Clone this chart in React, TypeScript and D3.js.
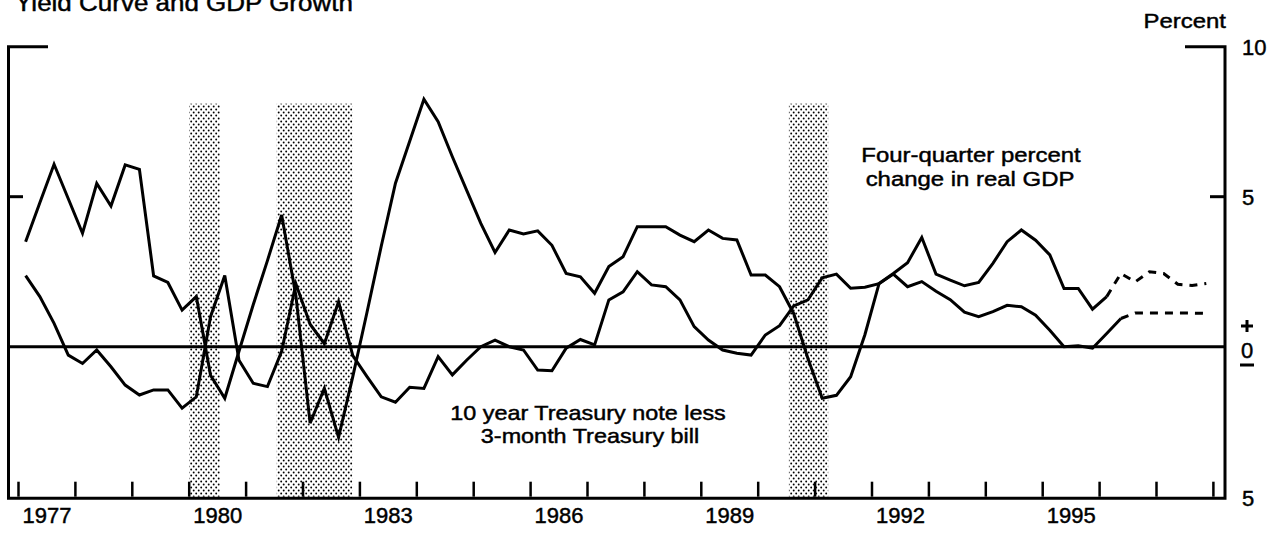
import React from 'react';
import * as d3 from 'd3';

// Quarterly observations, 1977Q1 .. 1997Q4 (84 quarters)
const firstQuarterYear = 1977;

// Four-quarter percent change in real GDP
const gdpGrowth: number[] = [
  3.50, 4.80, 6.08, 4.93, 3.78, 5.44, 4.69, 6.06, 5.91, 2.36,
  2.14, 1.22, 1.67, -0.95, -1.72, -0.15, 1.40, 2.87, 4.39, 1.70,
  -2.55, -1.39, -3.02, -1.00, 1.15, 3.35, 5.45, 6.85, 8.25, 7.50,
  6.33, 5.22, 4.11, 3.14, 3.89, 3.76, 3.86, 3.38, 2.44, 2.33,
  1.78, 2.67, 3.00, 4.00, 4.00, 4.00, 3.72, 3.50, 3.89, 3.61,
  3.56, 2.39, 2.39, 2.00, 1.10, -0.40, -1.72, -1.62, -1.00, 0.40,
  2.11, 2.44, 2.80, 3.64, 2.42, 2.22, 2.03, 2.14, 2.78, 3.50,
  3.89, 3.55, 3.06, 1.94, 1.94, 1.25, 1.67, 2.44, 2.16, 2.50,
  2.44, 2.08, 2.04, 2.11,
];

// 10 year Treasury note less 3-month Treasury bill
const yieldSpread: number[] = [
  2.37, 1.67, 0.78, -0.28, -0.56, -0.11, -0.67, -1.28, -1.61, -1.44,
  -1.44, -2.05, -1.67, 1.00, 2.37, -0.45, -1.22, -1.33, -0.15, 2.10,
  0.75, 0.10, 1.50, -0.30, -1.00, -1.67, -1.85, -1.35, -1.39, -0.33,
  -0.94, -0.45, 0.00, 0.22, 0.00, -0.11, -0.78, -0.80, -0.05, 0.24,
  0.06, 1.56, 1.83, 2.50, 2.06, 2.00, 1.56, 0.67, 0.22, -0.11,
  -0.22, -0.28, 0.39, 0.70, 1.36, 1.56, 2.30, 2.42, 1.95, 1.98,
  2.10, 2.42, 2.00, 2.17, 1.85, 1.57, 1.15, 1.00, 1.17, 1.38,
  1.33, 1.05, 0.55, 0.00, 0.03, -0.05, 0.44, 0.94, 1.12, 1.12,
  1.12, 1.12, 1.12, 1.11,
];

// index of the last actual (solid) observation; projections are dashed after it
const gdpLastActual = 76;
const spreadLastActual = 77;

const yearTicks: number[] = d3.range(1977, 1999);
const yearLabels: number[] = [1977, 1980, 1983, 1986, 1989, 1992, 1995];
const recessions: [number, number][] = [
  [1980.0, 1980.54],
  [1981.54, 1982.87],
  [1990.54, 1991.23],
];
const shadeTopValue = 8.1;

const FONT = '"Liberation Sans", Arial, Helvetica, sans-serif';
const TEXT_STROKE = 0.45;

function StretchText(props: {
  x: number; y: number; size: number; sx?: number;
  anchor?: 'start' | 'middle' | 'end'; children: React.ReactNode;
}) {
  const { x, y, size, sx = 1.12, anchor = 'start', children } = props;
  return (
    <text
      transform={`translate(${x},${y}) scale(${sx},1)`}
      textAnchor={anchor}
      fontFamily={FONT}
      fontSize={size}
      fill="#000"
      stroke="#000"
      strokeWidth={TEXT_STROKE}
    >
      {children}
    </text>
  );
}

function Num(props: { x: number; y: number; anchor?: 'start' | 'middle' | 'end'; children: React.ReactNode }) {
  const { x, y, anchor = 'start', children } = props;
  return (
    <text
      x={x}
      y={y}
      textAnchor={anchor}
      fontFamily={FONT}
      fontSize={22}
      fill="#000"
      stroke="#000"
      strokeWidth={TEXT_STROKE}
    >
      {children}
    </text>
  );
}

export default function App() {
  const W = 1286;
  const H = 533;
  const frameLeft = 8.5;
  const frameRight = 1225;

  const x = d3.scaleLinear().domain([1977, 1998]).range([18.5, 1213.4]);
  const y = d3.scaleLinear().domain([-5, 10]).range([496.7, 46.7]);

  const quarterTime = (i: number) => firstQuarterYear + 0.125 + i * 0.25;

  const line = d3
    .line<[number, number]>()
    .x((d) => x(d[0]))
    .y((d) => y(d[1]));

  const toPts = (arr: number[]) =>
    arr.map((v, i) => [quarterTime(i), v] as [number, number]);

  const gdpPts = toPts(gdpGrowth);
  const sprPts = toPts(yieldSpread);

  const top = y(10);
  const bottom = y(-5);
  const zeroY = y(0);

  return (
    <svg
      width={W}
      height={H}
      viewBox={`0 0 ${W} ${H}`}
      style={{ position: 'absolute', left: 0, top: 0, background: '#fff' }}
    >
      <defs>
        <pattern id="dots" width={5} height={6} patternUnits="userSpaceOnUse">
          <rect width={5} height={6} fill="#fff" />
          <circle cx={1.2} cy={1.5} r={0.95} fill="#000" />
          <circle cx={3.7} cy={4.5} r={0.95} fill="#000" />
        </pattern>
      </defs>
      <rect x={0} y={0} width={W} height={H} fill="#fff" />

      {/* Title (cut off at top, as in the source) */}
      <StretchText x={15} y={11} size={23} sx={1.13}>
        Yield Curve and GDP Growth
      </StretchText>

      {/* recession shading */}
      {recessions.map(([a, b], k) => (
        <rect
          key={k}
          x={x(a)}
          y={y(shadeTopValue)}
          width={x(b) - x(a)}
          height={bottom - y(shadeTopValue)}
          fill="url(#dots)"
        />
      ))}

      {/* zero line */}
      <line x1={frameLeft} x2={frameRight} y1={zeroY} y2={zeroY} stroke="#000" strokeWidth={3} />

      {/* frame */}
      <path
        d={`M${frameLeft - 1.5},${top} H48 M${frameLeft},${top - 1.5} V${bottom + 1.5} H${frameRight + 1.5} M${frameRight},${bottom} V${top - 1.5} M${frameRight + 1.5},${top} H1185`}
        fill="none"
        stroke="#000"
        strokeWidth={3}
      />

      {/* y ticks at 5 */}
      <line x1={frameLeft} x2={23} y1={y(5)} y2={y(5)} stroke="#000" strokeWidth={3} />
      <line x1={1210} x2={frameRight} y1={y(5)} y2={y(5)} stroke="#000" strokeWidth={3} />

      {/* x ticks */}
      {yearTicks.map((t) => (
        <line key={t} x1={x(t)} x2={x(t)} y1={bottom} y2={bottom - 15} stroke="#000" strokeWidth={2.5} />
      ))}

      {/* x labels */}
      {yearLabels.map((t) => (
        <Num key={t} x={x(t + 0.5)} y={523} anchor="middle">{t}</Num>
      ))}

      {/* right axis labels */}
      <StretchText x={1226} y={28} size={21} sx={1.14} anchor="end">Percent</StretchText>
      <Num x={1242} y={y(10) + 8}>10</Num>
      <Num x={1242} y={y(5) + 8}>5</Num>
      <Num x={1242} y={y(-5) + 9}>5</Num>
      <line x1={1247} x2={1247} y1={320} y2={332} stroke="#000" strokeWidth={3} />
      <line x1={1241} x2={1253} y1={326} y2={326} stroke="#000" strokeWidth={3} />
      <Num x={1241} y={zeroY + 11}>0</Num>
      <line x1={1240} x2={1254} y1={365} y2={365} stroke="#000" strokeWidth={3} />

      {/* series */}
      <path d={line(gdpPts.slice(0, gdpLastActual + 1)) || ''} fill="none" stroke="#000" strokeWidth={3} />
      <path d={line(gdpPts.slice(gdpLastActual)) || ''} fill="none" stroke="#000" strokeWidth={3} strokeDasharray="8,7" />
      <path d={line(sprPts.slice(0, spreadLastActual + 1)) || ''} fill="none" stroke="#000" strokeWidth={3} />
      <path d={line(sprPts.slice(spreadLastActual)) || ''} fill="none" stroke="#000" strokeWidth={3} strokeDasharray="8,7" />

      {/* annotations */}
      <StretchText x={971} y={162} size={21} sx={1.14} anchor="middle">Four-quarter percent</StretchText>
      <StretchText x={970} y={186} size={21} sx={1.14} anchor="middle">change in real GDP</StretchText>
      <StretchText x={588} y={420} size={20} sx={1.17} anchor="middle">10 year Treasury note less</StretchText>
      <StretchText x={590} y={443} size={20} sx={1.17} anchor="middle">3-month Treasury bill</StretchText>
    </svg>
  );
}
